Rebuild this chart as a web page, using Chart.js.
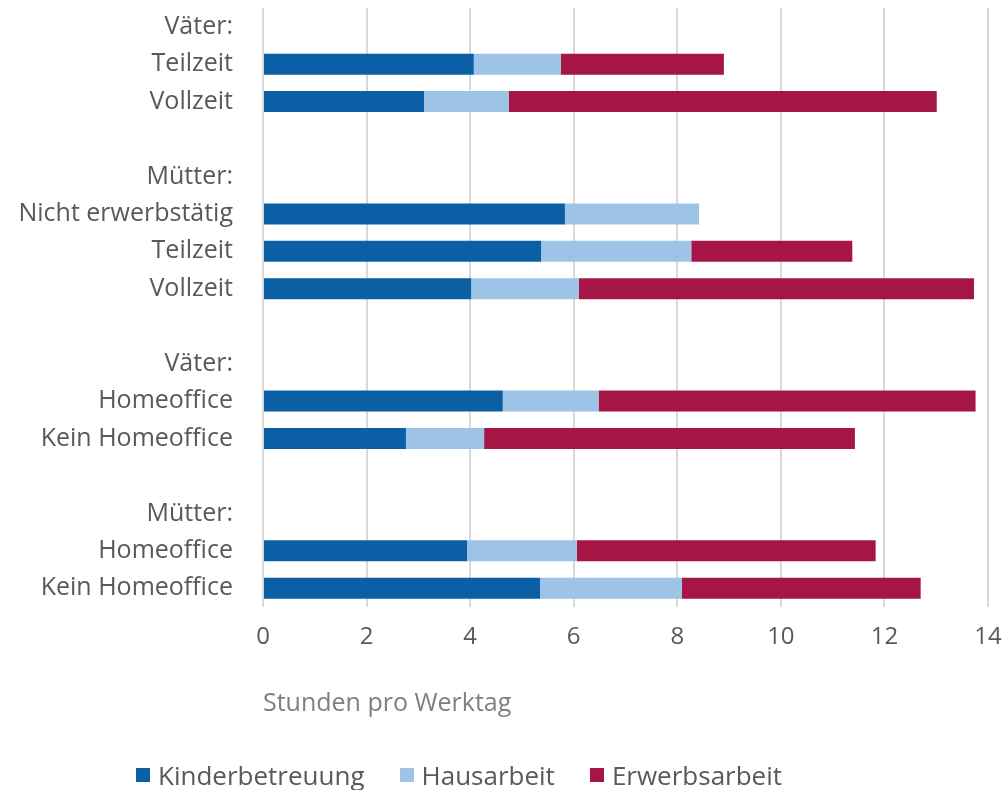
<!DOCTYPE html>
<html>
<head>
<meta charset="utf-8">
<script src="https://cdn.jsdelivr.net/npm/chart.js@4/dist/chart.umd.min.js"></script>
<style>
  html, body { margin: 0; padding: 0; background: #fff; }
  #wrap { position: relative; width: 1006px; height: 790px; }
  #legend {
    position: absolute; left: 136px; top: 759px;
    font-family: "Open Sans", sans-serif; font-size: 26px; color: #595959;
    display: flex; white-space: nowrap; line-height: 32px;
  }
  #legend span.item { display: flex; align-items: center; margin-right: 35px; }
  #legend span.box { width: 14px; height: 14px; margin-right: 8px; display: inline-block; }
</style>
</head>
<body>
<div id="wrap">
  <canvas id="chart" width="1006" height="790"></canvas>
  <div id="legend"></div>
</div>
<script>
// rows, top to bottom
var categories = ["Väter:", "Teilzeit", "Vollzeit", "", "Mütter:", "Nicht erwerbstätig", "Teilzeit", "Vollzeit", "",
                  "Väter:", "Homeoffice", "Kein Homeoffice", "", "Mütter:", "Homeoffice", "Kein Homeoffice"];
// hours per workday
var kinderbetreuung = [null, 4.07, 3.11, null, null, 5.83, 5.37, 4.02, null, null, 4.63, 2.76, null, null, 3.94, 5.35];
var hausarbeit      = [null, 1.68, 1.64, null, null, 2.59, 2.90, 2.08, null, null, 1.85, 1.51, null, null, 2.12, 2.74];
var erwerbsarbeit   = [null, 3.15, 8.26, null, null, 0,    3.11, 7.63, null, null, 7.28, 7.16, null, null, 5.77, 4.61];
var xTicks = [0, 2, 4, 6, 8, 10, 12, 14];

var seriesNames = ["Kinderbetreuung", "Hausarbeit", "Erwerbsarbeit"];
var seriesColors = ["#0b5fa5", "#9dc3e6", "#a51546"];

var grey = "#595959";

var datasets = [kinderbetreuung, hausarbeit, erwerbsarbeit].map(function (d, i) {
    return {
        label: seriesNames[i],
        data: d,
        backgroundColor: seriesColors[i],
        borderWidth: 0,
        barPercentage: 0.56,
        categoryPercentage: 1
    };
});

new Chart(document.getElementById("chart"), {
    type: "bar",
    data: { labels: categories, datasets: datasets },
    options: {
        indexAxis: "y",
        responsive: false,
        animation: false,
        layout: { padding: { top: 8, right: 18, bottom: 62, left: 0 } },
        plugins: {
            legend: { display: false },
            tooltip: { enabled: false }
        },
        scales: {
            x: {
                stacked: true,
                min: 0,
                max: 14,
                afterBuildTicks: function (scale) {
                    scale.ticks = xTicks.map(function (v) { return { value: v }; });
                },
                afterFit: function (scale) {
                    scale.height = 121;
                    scale.paddingLeft = 0;
                    scale.paddingRight = 0;
                },
                grid: { color: "#d9d9d9", lineWidth: 2, drawTicks: false },
                border: { display: false },
                ticks: {
                    color: grey,
                    padding: 16,
                    font: { family: "Open Sans", size: 24 }
                },
                title: {
                    display: true,
                    text: "Stunden pro Werktag",
                    align: "start",
                    color: "#7f7f7f",
                    padding: { top: 0, bottom: 9 },
                    font: { family: "Open Sans", size: 25 }
                }
            },
            y: {
                stacked: true,
                afterFit: function (scale) {
                    scale.width = 263;
                    scale.paddingTop = 0;
                    scale.paddingBottom = 0;
                },
                grid: { display: false, drawTicks: false },
                border: { display: false },
                ticks: {
                    color: grey,
                    padding: 30,
                    autoSkip: false,
                    font: { family: "Open Sans", size: 25 }
                }
            }
        }
    }
});

// legend below the chart
var legend = document.getElementById("legend");
seriesNames.forEach(function (name, i) {
    var item = document.createElement("span");
    item.className = "item";
    var box = document.createElement("span");
    box.className = "box";
    box.style.background = seriesColors[i];
    item.appendChild(box);
    item.appendChild(document.createTextNode(name));
    legend.appendChild(item);
});
</script>
</body>
</html>
